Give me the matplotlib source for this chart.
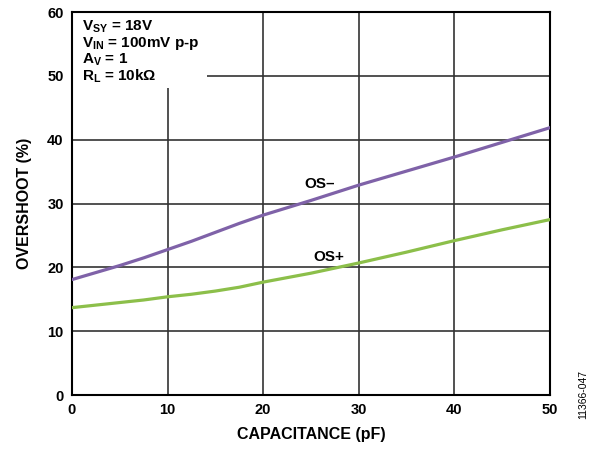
import matplotlib
matplotlib.use("Agg")
import matplotlib.pyplot as plt
import numpy as np
from matplotlib.patches import Rectangle

plt.rcParams['font.family'] = ['Liberation Sans', 'DejaVu Sans']
plt.rcParams['font.weight'] = 'bold'
plt.rcParams['mathtext.fontset'] = 'custom'
plt.rcParams['mathtext.rm'] = 'Liberation Sans:bold'
plt.rcParams['mathtext.bf'] = 'Liberation Sans:bold'
plt.rcParams['mathtext.it'] = 'Liberation Sans:bold'

cap_pf = [0, 2.5, 5, 7.5, 10, 12.5, 15, 17.5, 20, 25, 30, 35, 40, 45, 50]
os_minus = [18.1, 19.2, 20.3, 21.5, 22.8, 24.1, 25.5, 26.9, 28.2, 30.5, 32.9, 35.1, 37.3, 39.6, 41.9]
os_plus = [13.7, 14.1, 14.5, 14.9, 15.4, 15.8, 16.3, 16.9, 17.7, 19.1, 20.7, 22.4, 24.2, 25.9, 27.5]
x_ticks = [0, 10, 20, 30, 40, 50]
y_ticks = [0, 10, 20, 30, 40, 50, 60]

fig = plt.figure(figsize=(6.05, 4.51), dpi=100)
ax = fig.add_axes([0.119, 0.124, 0.790, 0.849])

ax.set_xlim(0, 50)
ax.set_ylim(0, 60)
ax.set_xticks(x_ticks)
ax.set_yticks(y_ticks)
ax.grid(True, color='#333333', linewidth=1.2)
ax.set_axisbelow(True)

ax.plot(cap_pf, os_minus, color='#7f62a8', linewidth=2.3, zorder=3)
ax.plot(cap_pf, os_plus, color='#8cbf4a', linewidth=2.3, zorder=3)

for s in ax.spines.values():
    s.set_linewidth(1.5)
    s.set_color('black')
ax.tick_params(axis='both', length=0, labelsize=10.5, pad=6)
for lbl in ax.get_xticklabels() + ax.get_yticklabels():
    lbl.set_fontweight('bold')

ax.set_xlabel('CAPACITANCE (pF)', fontsize=11.5, fontweight='bold', labelpad=7)
ax.set_ylabel('OVERSHOOT (%)', fontsize=11.5, fontweight='bold', labelpad=11)

ax.add_patch(Rectangle((0.15, 48.1), 14.0, 11.8, facecolor='white', edgecolor='none', zorder=2))
ax.text(1.0, 59.0,
        '$\\mathbf{V_{SY}}$ = 18V\n$\\mathbf{V_{IN}}$ = 100mV p-p\n$\\mathbf{A_{V}}$ = 1\n$\\mathbf{R_{L}}$ = 10kΩ',
        fontsize=11, fontweight='bold', va='top', ha='left', linespacing=0.98, zorder=4)

ax.text(25.9, 32.0, 'OS–', fontsize=11, fontweight='bold', ha='center', va='bottom', zorder=4)
ax.text(26.9, 20.5, 'OS+', fontsize=11, fontweight='bold', ha='center', va='bottom', zorder=4)

fig.text(0.964, 0.07, '11366-047', rotation=90, fontsize=7.5, fontweight='normal', ha='center', va='bottom')

fig.savefig('out.png', dpi=100)
